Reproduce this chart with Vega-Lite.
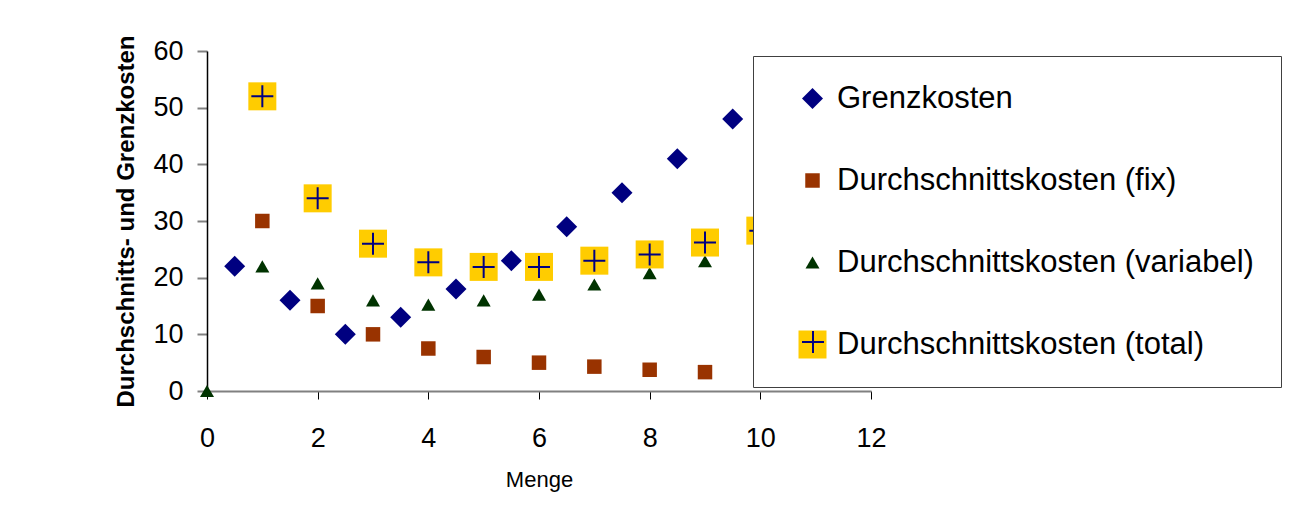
{
  "$schema": "https://vega.github.io/schema/vega-lite/v6.json",
  "width": 664,
  "height": 340,
  "autosize": {"type": "none"},
  "padding": {"left": 207, "top": 51, "right": 435, "bottom": 126},
  "background": "white",
  "config": {"font": "Liberation Sans", "view": {"stroke": null}},
  "data": {
    "values": [
      {"Menge": 0.5, "Kosten": 22, "Serie": "Grenzkosten"},
      {"Menge": 1.5, "Kosten": 16, "Serie": "Grenzkosten"},
      {"Menge": 2.5, "Kosten": 10, "Serie": "Grenzkosten"},
      {"Menge": 3.5, "Kosten": 13, "Serie": "Grenzkosten"},
      {"Menge": 4.5, "Kosten": 18, "Serie": "Grenzkosten"},
      {"Menge": 5.5, "Kosten": 23, "Serie": "Grenzkosten"},
      {"Menge": 6.5, "Kosten": 29, "Serie": "Grenzkosten"},
      {"Menge": 7.5, "Kosten": 35, "Serie": "Grenzkosten"},
      {"Menge": 8.5, "Kosten": 41, "Serie": "Grenzkosten"},
      {"Menge": 9.5, "Kosten": 48, "Serie": "Grenzkosten"},
      {"Menge": 1, "Kosten": 30, "Serie": "Durchschnittskosten (fix)"},
      {"Menge": 2, "Kosten": 15, "Serie": "Durchschnittskosten (fix)"},
      {"Menge": 3, "Kosten": 10, "Serie": "Durchschnittskosten (fix)"},
      {"Menge": 4, "Kosten": 7.5, "Serie": "Durchschnittskosten (fix)"},
      {"Menge": 5, "Kosten": 6, "Serie": "Durchschnittskosten (fix)"},
      {"Menge": 6, "Kosten": 5, "Serie": "Durchschnittskosten (fix)"},
      {"Menge": 7, "Kosten": 4.3, "Serie": "Durchschnittskosten (fix)"},
      {"Menge": 8, "Kosten": 3.75, "Serie": "Durchschnittskosten (fix)"},
      {"Menge": 9, "Kosten": 3.33, "Serie": "Durchschnittskosten (fix)"},
      {"Menge": 0, "Kosten": 0, "Serie": "Durchschnittskosten (variabel)"},
      {"Menge": 1, "Kosten": 22, "Serie": "Durchschnittskosten (variabel)"},
      {"Menge": 2, "Kosten": 19, "Serie": "Durchschnittskosten (variabel)"},
      {"Menge": 3, "Kosten": 16, "Serie": "Durchschnittskosten (variabel)"},
      {"Menge": 4, "Kosten": 15.25, "Serie": "Durchschnittskosten (variabel)"},
      {"Menge": 5, "Kosten": 16, "Serie": "Durchschnittskosten (variabel)"},
      {"Menge": 6, "Kosten": 17, "Serie": "Durchschnittskosten (variabel)"},
      {"Menge": 7, "Kosten": 18.8, "Serie": "Durchschnittskosten (variabel)"},
      {"Menge": 8, "Kosten": 20.8, "Serie": "Durchschnittskosten (variabel)"},
      {"Menge": 9, "Kosten": 22.9, "Serie": "Durchschnittskosten (variabel)"},
      {"Menge": 1, "Kosten": 52, "Serie": "Durchschnittskosten (total)"},
      {"Menge": 2, "Kosten": 34, "Serie": "Durchschnittskosten (total)"},
      {"Menge": 3, "Kosten": 26, "Serie": "Durchschnittskosten (total)"},
      {"Menge": 4, "Kosten": 22.7, "Serie": "Durchschnittskosten (total)"},
      {"Menge": 5, "Kosten": 21.9, "Serie": "Durchschnittskosten (total)"},
      {"Menge": 6, "Kosten": 21.9, "Serie": "Durchschnittskosten (total)"},
      {"Menge": 7, "Kosten": 23, "Serie": "Durchschnittskosten (total)"},
      {"Menge": 8, "Kosten": 24.1, "Serie": "Durchschnittskosten (total)"},
      {"Menge": 9, "Kosten": 26.2, "Serie": "Durchschnittskosten (total)"},
      {"Menge": 10, "Kosten": 28.3, "Serie": "Durchschnittskosten (total)"}
    ]
  },
  "encoding": {
    "x": {
      "field": "Menge",
      "type": "quantitative",
      "scale": {"domain": [0, 12], "nice": false, "zero": false},
      "axis": {
        "values": [0, 2, 4, 6, 8, 10, 12],
        "title": "Menge",
        "titleFontSize": 22,
        "titleFontWeight": "normal",
        "titleColor": "black",
        "titlePadding": 18,
        "labelFontSize": 27,
        "labelColor": "black",
        "labelPadding": 26,
        "labelFlush": false,
        "tickSize": 8,
        "tickColor": "black",
        "tickWidth": 1,
        "domainColor": "#808080",
        "domainWidth": 2,
        "grid": false
      }
    },
    "y": {
      "field": "Kosten",
      "type": "quantitative",
      "scale": {"domain": [0, 60], "nice": false},
      "axis": {
        "values": [0, 10, 20, 30, 40, 50, 60],
        "title": "Durchschnitts- und Grenzkosten",
        "titleFontSize": 24,
        "titleFontWeight": "bold",
        "titleColor": "black",
        "titlePadding": 14,
        "labelFontSize": 27,
        "labelColor": "black",
        "labelPadding": 14,
        "labelFlush": false,
        "tickSize": 10,
        "tickColor": "#808080",
        "tickWidth": 2,
        "domainColor": "black",
        "domainWidth": 1.5,
        "grid": false
      }
    }
  },
  "layer": [
    {
      "mark": {"type": "point", "filled": true, "opacity": 1, "strokeWidth": 0},
      "encoding": {
        "color": {
          "field": "Serie",
          "type": "nominal",
          "scale": {
            "domain": ["Grenzkosten", "Durchschnittskosten (fix)", "Durchschnittskosten (variabel)", "Durchschnittskosten (total)"],
            "range": ["#000080", "#993300", "#003300", "#FFCC00"]
          },
          "legend": {
            "title": null,
            "orient": "none",
            "legendX": 546,
            "legendY": 5,
            "padding": 27,
            "fillColor": "white",
            "strokeColor": "#404040",
            "labelFontSize": 31,
            "labelColor": "black",
            "labelLimit": 700,
            "symbolOffset": 17,
            "labelOffset": 9,
            "rowPadding": 50,
            "symbolStrokeWidth": 0,
            "zindex": 1
          }
        },
        "shape": {
          "field": "Serie",
          "type": "nominal",
          "scale": {
            "domain": ["Grenzkosten", "Durchschnittskosten (fix)", "Durchschnittskosten (variabel)", "Durchschnittskosten (total)"],
            "range": ["diamond", "square", "triangle-up", "square"]
          }
        },
        "size": {
          "field": "Serie",
          "type": "nominal",
          "scale": {
            "type": "ordinal",
            "domain": ["Grenzkosten", "Durchschnittskosten (fix)", "Durchschnittskosten (variabel)", "Durchschnittskosten (total)"],
            "range": [441, 210, 196, 784]
          }
        }
      }
    },
    {
      "transform": [{"filter": "datum.Serie === 'Durchschnittskosten (total)'"}],
      "mark": {"type": "point", "filled": false, "shape": "M-1,0H1M0,-1V1", "stroke": "#000080", "strokeWidth": 2, "size": 484, "opacity": 1},
      "encoding": {
        "opacity": {
          "field": "Serie",
          "type": "nominal",
          "scale": {"domain": ["Durchschnittskosten (total)"], "range": [1]},
          "legend": {
            "title": null,
            "orient": "none",
            "legendX": 594,
            "legendY": 279,
            "padding": 0,
            "labelExpr": "''",
            "symbolType": "M-1,0H1M0,-1V1",
            "symbolSize": 484,
            "symbolStrokeColor": "#000080",
            "symbolFillColor": "transparent",
            "symbolStrokeWidth": 2,
            "zindex": 2
          }
        }
      }
    }
  ]
}
